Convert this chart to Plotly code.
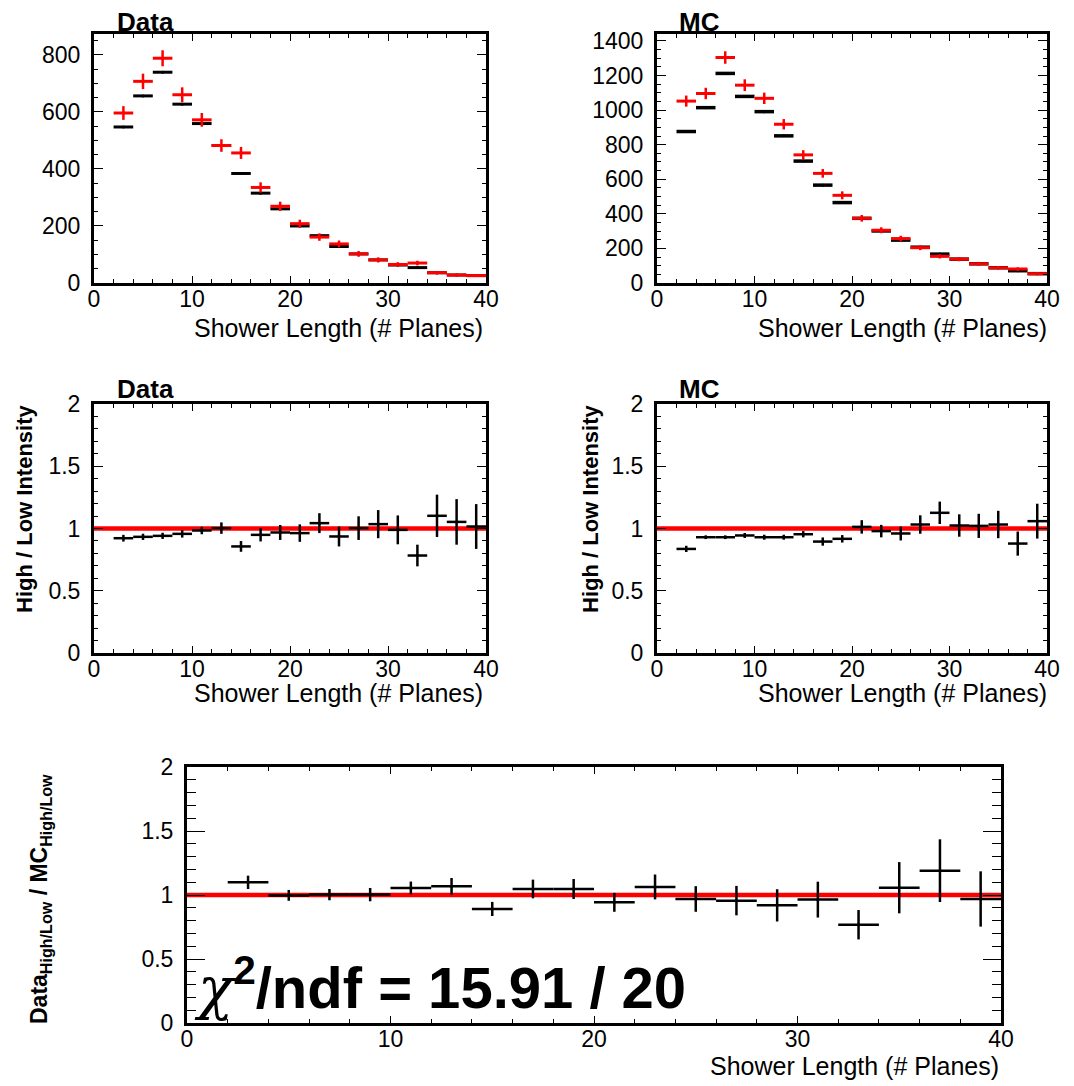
import plotly.graph_objects as go

# ---------------- data ----------------
bin_centers = [3, 5, 7, 9, 11, 13, 15, 17, 19, 21, 23, 25, 27, 29, 31, 33, 35, 37, 39]
bin_halfwidth = 1.0

data_low = [596, 707, 788, 660, 572, 482, 456, 335, 269, 208, 161, 137, 102, 81, 65, 70, 36, 28, 26]
data_low_err = [24, 27, 28, 26, 24, 22, 21, 18, 16, 14, 13, 12, 10, 9, 8, 8, 6, 5, 5]
data_high = [547, 656, 739, 627, 559, 482, 384, 315, 260, 200, 166, 128, 102, 81, 63, 54, 36, 28, 26]

mc_low = [1052, 1096, 1304, 1144, 1068, 918, 741, 634, 507, 374, 305, 257, 204, 154, 138, 111, 88, 81, 54]
mc_low_err = [32, 33, 36, 34, 33, 30, 27, 25, 23, 19, 17, 16, 14, 12, 12, 11, 9, 9, 7]
mc_high = [876, 1014, 1212, 1079, 991, 851, 705, 566, 465, 374, 301, 248, 207, 167, 138, 111, 88, 71, 54]

data_ratio = [0.922, 0.933, 0.941, 0.957, 0.984, 1.003, 0.856, 0.949, 0.968, 0.963,
              1.043, 0.936, 1.003, 1.035, 0.989, 0.783, 1.102, 1.053, 1.016]
data_ratio_err = [0.027, 0.025, 0.025, 0.03, 0.03, 0.046, 0.043, 0.053, 0.06, 0.07,
                  0.08, 0.08, 0.095, 0.113, 0.116, 0.087, 0.17, 0.183, 0.18]

mc_ratio = [0.836, 0.930, 0.930, 0.944, 0.930, 0.930, 0.954, 0.895, 0.917, 1.013,
            0.979, 0.960, 1.032, 1.126, 1.024, 1.021, 1.032, 0.879, 1.059]
mc_ratio_err = [0.025, 0.015, 0.015, 0.02, 0.02, 0.02, 0.025, 0.033, 0.03, 0.054,
                0.05, 0.056, 0.074, 0.09, 0.09, 0.097, 0.11, 0.097, 0.14]

dmc_ratio = [1.099, 0.997, 1.003, 1.003, 1.055, 1.068, 0.891, 1.047, 1.047, 0.943,
             1.063, 0.969, 0.956, 0.919, 0.964, 0.768, 1.057, 1.19, 0.969]
dmc_ratio_err = [0.052, 0.042, 0.044, 0.052, 0.05, 0.065, 0.055, 0.073, 0.078, 0.074,
                 0.097, 0.1, 0.115, 0.126, 0.14, 0.115, 0.2, 0.245, 0.216]

data_fit = 1.0
mc_fit = 1.0
dmc_fit = 1.0
chi2_text = "15.91 / 20"

x_range = [0, 40]

# ---------------- figure ----------------
W, H = 1074, 1086
OFF = 8  # page body margin of the browser
FONT = "Liberation Sans, Arial, sans-serif"


def px_x(p):
    return (p - OFF) / W


def px_y(p):
    return 1 - (p - OFF) / H


fig = go.Figure()


def add_hist(xa, ya, vals, errs, color, thick):
    ey = dict(type="data", array=errs, width=0, thickness=2.5, color=color, visible=True) if errs is not None \
        else dict(visible=False)
    fig.add_trace(go.Scatter(
        x=bin_centers, y=vals, mode="markers",
        marker=dict(size=3, color=color),
        error_x=dict(type="constant", value=bin_halfwidth, width=0, thickness=thick, color=color),
        error_y=ey,
        xaxis=xa, yaxis=ya, showlegend=False, hoverinfo="skip"))


def add_fit(xa, ya, val):
    fig.add_trace(go.Scatter(
        x=x_range, y=[val, val], mode="lines",
        line=dict(color="#ff0000", width=4.5),
        xaxis=xa, yaxis=ya, showlegend=False, hoverinfo="skip"))


# top panels: black (high) then red (low) on top
add_hist("x", "y", data_high, None, "black", 3)
add_hist("x", "y", data_low, data_low_err, "#ff0000", 3)
add_hist("x2", "y2", mc_high, None, "black", 3.5)
add_hist("x2", "y2", mc_low, mc_low_err, "#ff0000", 3)

# ratio panels
add_fit("x3", "y3", data_fit)
add_hist("x3", "y3", data_ratio, data_ratio_err, "black", 2.5)
add_fit("x4", "y4", mc_fit)
add_hist("x4", "y4", mc_ratio, mc_ratio_err, "black", 2.5)
add_fit("x5", "y5", dmc_fit)
add_hist("x5", "y5", dmc_ratio, dmc_ratio_err, "black", 2.5)

panels = {
    1: dict(x0=94, x1=486, y0=34, y1=283, yr=[0, 873], dt=200, mdt=50),
    2: dict(x0=657, x1=1047, y0=34, y1=283, yr=[0, 1440], dt=200, mdt=50),
    3: dict(x0=94, x1=486, y0=404, y1=653, yr=[0, 2], dt=0.5, mdt=0.1),
    4: dict(x0=657, x1=1047, y0=404, y1=653, yr=[0, 2], dt=0.5, mdt=0.1),
    5: dict(x0=187, x1=1001, y0=767, y1=1023, yr=[0, 2], dt=0.5, mdt=0.1),
}

layout_axes = {}
for i, p in panels.items():
    sfx = "" if i == 1 else str(i)
    ylen_major = 18 if i == 5 else 9
    ylen_minor = 9 if i == 5 else 4
    layout_axes["xaxis" + sfx] = dict(
        domain=[px_x(p["x0"]), px_x(p["x1"])], range=x_range, anchor="y" + sfx,
        dtick=10, tick0=0, ticks="inside", ticklen=7, tickwidth=1, tickcolor="black",
        minor=dict(dtick=2, ticks="inside", ticklen=4, tickcolor="black", tickwidth=1),
        showline=True, linewidth=3, linecolor="black", mirror="ticks",
        showgrid=False, zeroline=False, automargin=False,
        tickfont=dict(size=23, color="black", family=FONT), ticklabelstandoff=-7,
    )
    layout_axes["yaxis" + sfx] = dict(
        domain=[px_y(p["y1"]), px_y(p["y0"])], range=p["yr"], anchor="x" + sfx,
        dtick=p["dt"], tick0=0, ticks="inside", ticklen=ylen_major, tickwidth=1, tickcolor="black",
        minor=dict(dtick=p["mdt"], ticks="inside", ticklen=ylen_minor, tickcolor="black", tickwidth=1),
        showline=True, linewidth=3, linecolor="black", mirror="ticks",
        showgrid=False, zeroline=False, automargin=False,
        tickfont=dict(size=23, color="black", family=FONT), ticklabelstandoff=6,
    )

annotations = []


def ann(text, x, y, size, xanchor="left", yanchor="middle", angle=0):
    annotations.append(dict(
        text=text, x=px_x(x), y=px_y(y), xref="paper", yref="paper",
        xanchor=xanchor, yanchor=yanchor, textangle=angle, showarrow=False,
        font=dict(size=size, color="black", family=FONT)))


# panel titles
ann("<b>Data</b>", 115, 22, 26)
ann("<b>MC</b>", 677, 22, 26)
ann("<b>Data</b>", 115, 389, 26)
ann("<b>MC</b>", 677, 389, 26)

# x-axis titles
xt = "Shower Length (# Planes)"
ann(xt, 485, 328, 25, xanchor="right")
ann(xt, 1049, 328, 25, xanchor="right")
ann(xt, 485, 693, 25, xanchor="right")
ann(xt, 1049, 693, 25, xanchor="right")
ann(xt, 1001, 1066, 25, xanchor="right")

# y-axis titles
ann("<b>High / Low Intensity</b>", 24, 509, 22, xanchor="center", angle=-90)
ann("<b>High / Low Intensity</b>", 590, 509, 22, xanchor="center", angle=-90)
ann("<b>Data<sub>High/Low</sub> / MC<sub>High/Low</sub></b>", 40, 899, 23, xanchor="center", angle=-90)

# chi2 text
ann('<span style="font-family:DejaVu Serif;font-style:italic;font-weight:normal">χ</span>'
    '<b><sup>2</sup>/ndf = ' + chi2_text + '</b>', 192, 984, 58)

fig.update_layout(
    template="none",
    width=W, height=H, autosize=False,
    margin=dict(l=0, r=0, t=0, b=0, pad=0),
    paper_bgcolor="white", plot_bgcolor="white",
    font=dict(family=FONT, color="black"),
    annotations=annotations,
    showlegend=False,
    **layout_axes,
)

fig.write_html("out.html")
